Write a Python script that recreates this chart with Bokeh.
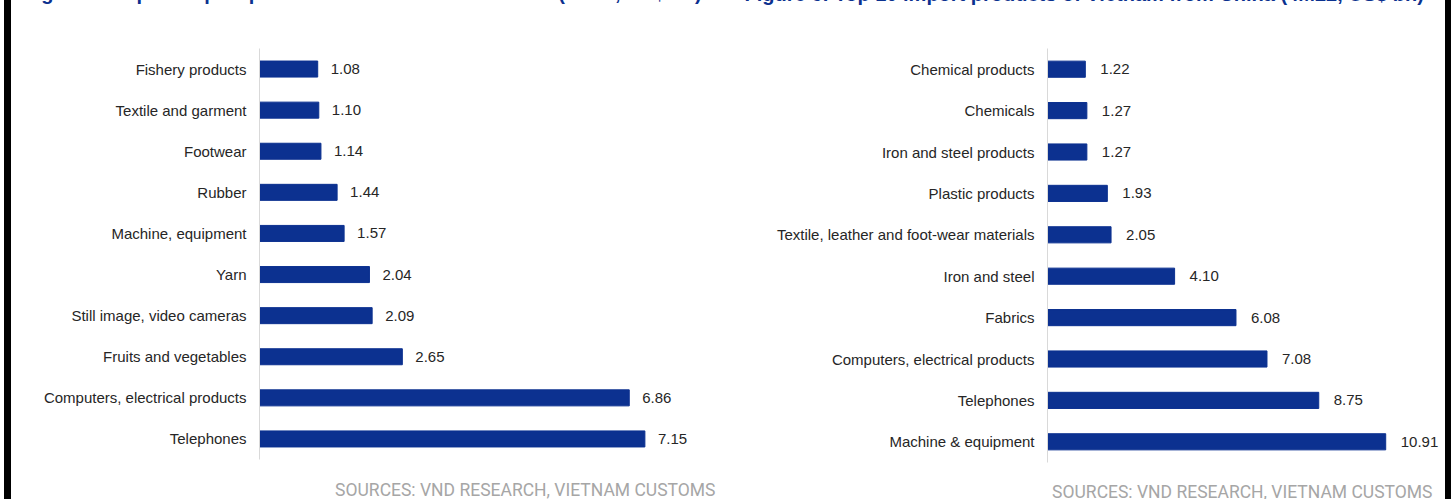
from bokeh.plotting import figure
from bokeh.models import ColumnDataSource, FactorRange, Range1d, Title, Div
from bokeh.layouts import row
from bokeh.core.properties import value
from bokeh.embed import file_html
from bokeh.resources import INLINE

# ---- data ----
left_title = "Figure 5: Top 10 export products from Vietnam to China (4M22, US$ bn)"
right_title = "Figure 6: Top 10 import products of Vietnam from China (4M22, US$ bn)"
source_note = "SOURCES: VND RESEARCH, VIETNAM CUSTOMS"

export_items = ["Fishery products", "Textile and garment", "Footwear", "Rubber",
                "Machine, equipment", "Yarn", "Still image, video cameras",
                "Fruits and vegetables", "Computers, electrical products", "Telephones"]
export_values = [1.08, 1.10, 1.14, 1.44, 1.57, 2.04, 2.09, 2.65, 6.86, 7.15]

import_items = ["Chemical products", "Chemicals", "Iron and steel products",
                "Plastic products", "Textile, leather and foot-wear materials",
                "Iron and steel", "Fabrics", "Computers, electrical products",
                "Telephones", "Machine & equipment"]
import_values = [1.22, 1.27, 1.27, 1.93, 2.05, 4.10, 6.08, 7.08, 8.75, 10.91]

BAR = "#0c3190"
TXT = "#262626"
FONT = "Liberation Sans"
SHIFT = 41  # canvas rows hidden above the window


def make_chart(items, vals, title, frame_top, frame_h, border_left, frame_w,
               border_right, xmax, label_off, title_off, title_standoff,
               note_off, note_standoff):
    src = ColumnDataSource(dict(cat=items, val=vals, lab=[f"{v:.2f}" for v in vals]))
    p = figure(y_range=FactorRange(factors=list(reversed(items))),
               x_range=Range1d(0, xmax),
               frame_width=frame_w, frame_height=frame_h,
               min_border_left=border_left, min_border_right=border_right,
               min_border_top=frame_top + SHIFT, min_border_bottom=50,
               output_backend="svg", toolbar_location=None)
    p.hbar(y="cat", left=0, right="val", height=0.39, source=src,
           fill_color=BAR, line_color=BAR)
    p.text(x="val", y="cat", text="lab", source=src, x_offset=label_off,
           text_baseline="middle", text_align="left", text_font_size="15px",
           text_font=value(FONT), text_color=TXT)
    p.xaxis.visible = False
    p.xgrid.visible = False
    p.ygrid.visible = False
    p.outline_line_color = None
    ax = p.yaxis[0]
    ax.axis_line_color = "#d9d9d9"
    ax.axis_line_width = 1
    ax.major_tick_line_color = None
    ax.minor_tick_line_color = None
    ax.major_tick_in = 0
    ax.major_tick_out = 0
    ax.major_label_standoff = 13
    ax.major_label_text_font = FONT
    ax.major_label_text_font_size = "15px"
    ax.major_label_text_color = TXT
    # spacer panel between frame and title
    p.add_layout(Title(text=" ", standoff=0, text_font_size="21px"), "above")
    p.add_layout(Title(text=title, align="left", offset=title_off,
                       standoff=title_standoff,
                       text_font=FONT, text_font_style="bold",
                       text_font_size="20px", text_color="#0b318f"), "above")
    p.add_layout(Title(text=source_note, align="right", offset=note_off,
                       standoff=note_standoff, text_font="Roboto",
                       text_font_style="normal",
                       text_font_size="17.5px", text_color="#a6a6a6"), "below")
    return p


left = make_chart(export_items, export_values, left_title, 48, 411, 248, 456, 11,
                  456 / 53.9, 13, -236, 40, 0, 36)
right = make_chart(import_items, import_values, right_title, 46, 414, 321, 398, 0,
                   398 / 31.0, 15, -303, 38, 13, 35)

spacer_l = Div(width=4, height=600, margin=0)
bar_l = Div(width=7, height=600, margin=0, styles={"background-color": "black"})
bar_r = Div(width=6, height=600, margin=0, styles={"background-color": "black"})
spacer_r = Div(width=1, height=600, margin=0)

layout = row(spacer_l, bar_l, left, right, bar_r, spacer_r, spacing=0,
             margin=(-SHIFT, 0, 0, 0))

open("out.html", "w").write(file_html(layout, INLINE))
